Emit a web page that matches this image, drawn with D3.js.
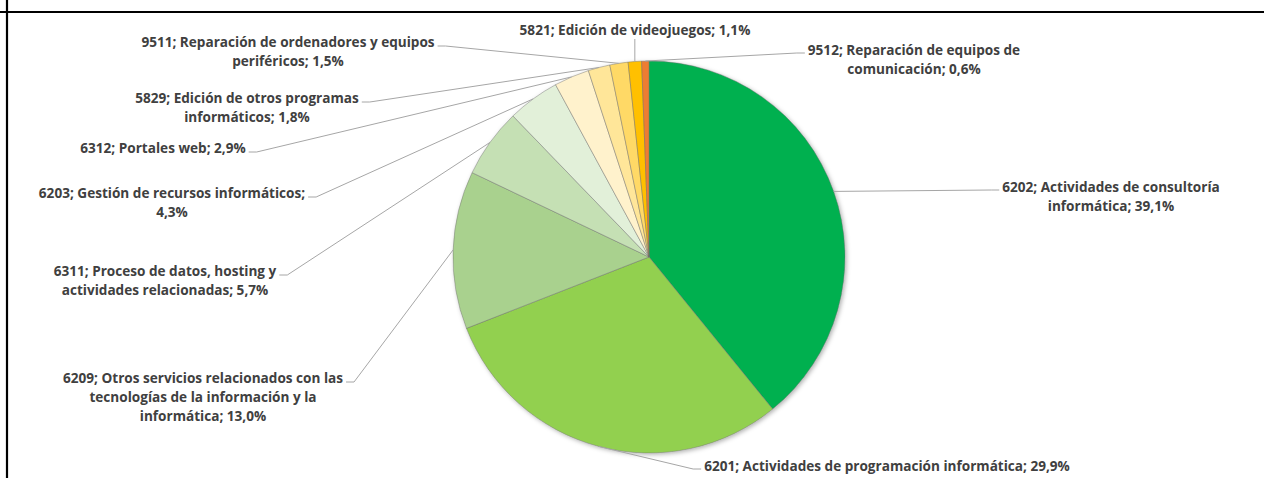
<!DOCTYPE html>
<html>
<head>
<meta charset="utf-8">
<script src="https://cdn.jsdelivr.net/npm/d3@7"></script>
<style>
  html, body { margin: 0; padding: 0; background: #ffffff; }
  svg { display: block; }
</style>
</head>
<body>
<svg id="chart" width="1264" height="478"></svg>
<script>
// ---- data ----
const codes = ["6202", "6201", "6209", "6311", "6203", "6312", "5829", "9511", "5821", "9512"];
const names = [
  "Actividades de consultoría informática",
  "Actividades de programación informática",
  "Otros servicios relacionados con las tecnologías de la información y la informática",
  "Proceso de datos, hosting y actividades relacionadas",
  "Gestión de recursos informáticos",
  "Portales web",
  "Edición de otros programas informáticos",
  "Reparación de ordenadores y equipos periféricos",
  "Edición de videojuegos",
  "Reparación de equipos de comunicación"
];
const values = [39.1, 29.9, 13.0, 5.7, 4.3, 2.9, 1.8, 1.5, 1.1, 0.6];

// ---- styling / layout (not data) ----
const colors = ["#00B050", "#92D050", "#A9D18E", "#C5E0B4", "#E2F0D9", "#FFF2CC", "#FFE699", "#FFD966", "#FFC000", "#ED7D31"];
const labelLines = [
  ["6202; Actividades de consultoría", "informática; 39,1%"],
  ["6201; Actividades de programación informática; 29,9%"],
  ["6209; Otros servicios relacionados con las", "tecnologías de la información y la", "informática; 13,0%"],
  ["6311; Proceso de datos, hosting y", "actividades relacionadas; 5,7%"],
  ["6203; Gestión de recursos informáticos;", "4,3%"],
  ["6312; Portales web; 2,9%"],
  ["5829; Edición de otros programas", "informáticos; 1,8%"],
  ["9511; Reparación de ordenadores y equipos", "periféricos; 1,5%"],
  ["5821; Edición de videojuegos; 1,1%"],
  ["9512; Reparación de equipos de", "comunicación; 0,6%"]
];
const labelPos = [
  {x: 1111, y: 187, side: "left"},
  {x: 887,  y: 466, side: "left"},
  {x: 203,  y: 378, side: "right"},
  {x: 165,  y: 271, side: "right"},
  {x: 172,  y: 193, side: "right"},
  {x: 163,  y: 148, side: "right"},
  {x: 247,  y: 98,  side: "right"},
  {x: 288,  y: 42,  side: "right"},
  {x: 635,  y: 30,  side: "bottom"},
  {x: 914,  y: 50,  side: "left"}
];

const W = 1264, H = 478;
const cx = 649, cy = 257, R = 196;
const lineH = 19;
const refWidth6201 = 366;

const svg = d3.select("#chart");

svg.append("line").attr("x1", 0).attr("x2", W).attr("y1", 12).attr("y2", 12)
  .attr("stroke", "#000").attr("stroke-width", 2.2);
svg.append("line").attr("x1", 7).attr("x2", 7).attr("y1", 0).attr("y2", H)
  .attr("stroke", "#000").attr("stroke-width", 2.2);

const defs = svg.append("defs");
const f = defs.append("filter").attr("id", "shadow")
  .attr("x", "-10%").attr("y", "-10%").attr("width", "120%").attr("height", "120%");
f.append("feDropShadow").attr("dx", 1.5).attr("dy", 1.5).attr("stdDeviation", 2)
  .attr("flood-color", "#000").attr("flood-opacity", 0.3);

const data = codes.map((c, i) => ({code: c, name: names[i], value: values[i], i}));
const pie = d3.pie().value(d => d.value).sort(null);
const arcs = pie(data);
const arc = d3.arc().innerRadius(0).outerRadius(R);

const g = svg.append("g").attr("transform", `translate(${cx},${cy})`);
g.append("g").attr("filter", "url(#shadow)")
  .selectAll("path").data(arcs).join("path")
  .attr("d", arc)
  .attr("fill", d => colors[d.data.i])
  .attr("stroke", "rgba(110,110,110,0.55)")
  .attr("stroke-width", 0.8);

const fontFamily = "'Open Sans', 'Noto Sans', sans-serif";
const probe = svg.append("text").attr("font-family", fontFamily).attr("font-weight", "bold")
  .attr("font-size", "13px").text(labelLines[1][0]);
const fs = 13 * refWidth6201 / probe.node().getComputedTextLength();
probe.remove();

const labG = svg.append("g")
  .attr("font-family", fontFamily)
  .attr("font-weight", "bold")
  .attr("font-size", fs + "px")
  .attr("fill", "#404040");

const leaderG = svg.append("g").attr("fill", "none").attr("stroke", "#A6A6A6").attr("stroke-width", 1);

arcs.forEach(a => {
  const i = a.data.i;
  const p = labelPos[i];
  const lines = labelLines[i];
  const t = labG.append("text").attr("text-anchor", "middle");
  lines.forEach((ln, j) => {
    t.append("tspan").attr("x", p.x).attr("y", p.y + j * lineH).attr("dy", "0.35em").text(ln);
  });
  const w0 = t.select("tspan").node().getComputedTextLength();
  const mid = (a.startAngle + a.endAngle) / 2;
  const ax = cx + R * Math.sin(mid), ay = cy - R * Math.cos(mid);
  let pts;
  if (p.side === "right") {
    const tx = p.x + w0 / 2 + 3, ty = p.y + 4;
    pts = [[tx, ty], [tx + 8, ty], [ax, ay]];
  } else if (p.side === "left") {
    const tx = p.x - w0 / 2 - 3, ty = p.y + 3;
    pts = [[tx, ty], [tx - 8, ty], [ax, ay]];
  } else {
    pts = [[ax, p.y + 9], [ax, ay]];
  }
  leaderG.append("path").attr("d", d3.line()(pts));
});
</script>
</body>
</html>
